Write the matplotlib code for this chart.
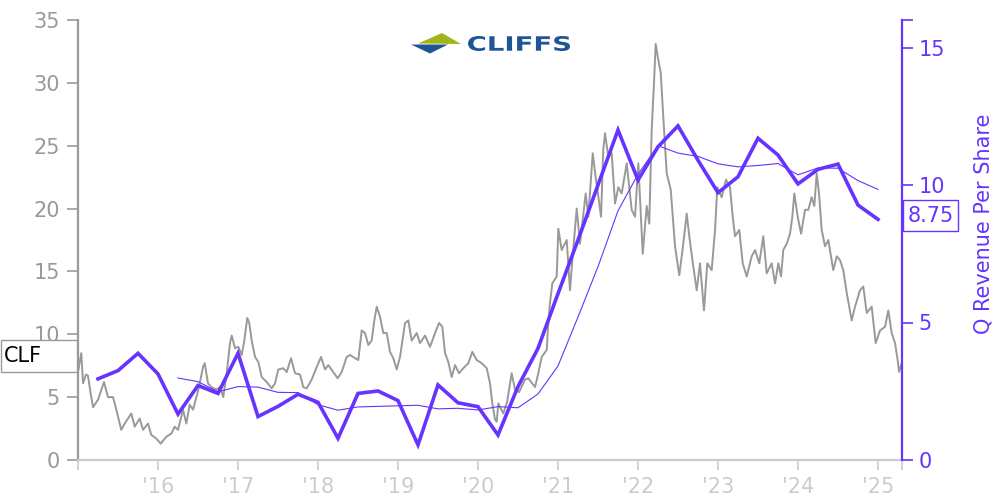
import numpy as np
import matplotlib
matplotlib.use("Agg")
import matplotlib.pyplot as plt
from matplotlib.patches import Polygon, Rectangle, PathPatch
from matplotlib.textpath import TextPath
from matplotlib.font_manager import FontProperties
from matplotlib.transforms import Affine2D

# daily close of CLF (decimal year, price in $)
price_years = [
    2015.000, 2015.041, 2015.063, 2015.100, 2015.125, 2015.158, 2015.188, 2015.250,
    2015.325, 2015.375, 2015.438, 2015.479, 2015.541, 2015.584, 2015.666, 2015.709,
    2015.771, 2015.813, 2015.875, 2015.916, 2015.979, 2016.034, 2016.104, 2016.166,
    2016.209, 2016.250, 2016.313, 2016.354, 2016.396, 2016.438, 2016.479, 2016.509,
    2016.563, 2016.584, 2016.625, 2016.666, 2016.729, 2016.775, 2016.816, 2016.859,
    2016.900, 2016.921, 2016.963, 2017.004, 2017.046, 2017.079, 2017.116, 2017.141,
    2017.171, 2017.213, 2017.254, 2017.296, 2017.359, 2017.421, 2017.463, 2017.504,
    2017.566, 2017.609, 2017.663, 2017.713, 2017.775, 2017.816, 2017.859, 2017.921,
    2017.984, 2018.038, 2018.088, 2018.129, 2018.191, 2018.246, 2018.296, 2018.359,
    2018.400, 2018.463, 2018.504, 2018.546, 2018.588, 2018.629, 2018.671, 2018.704,
    2018.734, 2018.775, 2018.816, 2018.859, 2018.900, 2018.941, 2018.984, 2019.025,
    2019.088, 2019.129, 2019.171, 2019.234, 2019.275, 2019.338, 2019.400, 2019.463,
    2019.513, 2019.554, 2019.588, 2019.629, 2019.671, 2019.713, 2019.763, 2019.816,
    2019.879, 2019.929, 2019.984, 2020.046, 2020.109, 2020.150, 2020.179, 2020.213,
    2020.234, 2020.254, 2020.316, 2020.363, 2020.421, 2020.463, 2020.513, 2020.588,
    2020.629, 2020.713, 2020.754, 2020.796, 2020.859, 2020.879, 2020.900, 2020.929,
    2020.984, 2021.004, 2021.046, 2021.109, 2021.150, 2021.179, 2021.234, 2021.275,
    2021.346, 2021.379, 2021.434, 2021.471, 2021.538, 2021.566, 2021.588, 2021.629,
    2021.671, 2021.713, 2021.754, 2021.796, 2021.859, 2021.921, 2021.963, 2022.004,
    2022.059, 2022.109, 2022.141, 2022.171, 2022.200, 2022.221, 2022.254, 2022.284,
    2022.316, 2022.359, 2022.409, 2022.463, 2022.516, 2022.566, 2022.609, 2022.641,
    2022.691, 2022.734, 2022.775, 2022.825, 2022.866, 2022.921, 2022.963, 2022.991,
    2023.046, 2023.100, 2023.150, 2023.184, 2023.213, 2023.266, 2023.309, 2023.359,
    2023.421, 2023.463, 2023.516, 2023.566, 2023.609, 2023.671, 2023.713, 2023.754,
    2023.788, 2023.816, 2023.859, 2023.900, 2023.929, 2023.954, 2023.996, 2024.038,
    2024.088, 2024.129, 2024.171, 2024.204, 2024.234, 2024.263, 2024.296, 2024.338,
    2024.379, 2024.441, 2024.484, 2024.525, 2024.566, 2024.609, 2024.671, 2024.713,
    2024.775, 2024.816, 2024.859, 2024.921, 2024.971, 2025.025, 2025.088, 2025.129,
    2025.171, 2025.213, 2025.246, 2025.263, 2025.296,
]
price_values = [
    7.0, 8.5, 6.1, 6.8, 6.7, 5.3, 4.2, 4.8,
    6.2, 5.0, 5.0, 4.0, 2.4, 2.9, 3.7, 2.65,
    3.3, 2.4, 2.9, 2.0, 1.7, 1.3, 1.85, 2.1,
    2.65, 2.4, 4.0, 2.9, 4.4, 4.0, 5.0, 5.7,
    7.4, 7.7, 6.1, 5.8, 5.6, 5.8, 5.0, 6.9,
    9.3, 9.9, 8.9, 9.0, 8.35, 9.5, 11.3, 10.9,
    9.5, 8.2, 7.8, 6.6, 6.2, 5.7, 6.1, 7.2,
    7.3, 7.0, 8.1, 6.9, 6.8, 5.8, 5.7, 6.4,
    7.4, 8.2, 7.2, 7.55, 7.0, 6.5, 7.0, 8.2,
    8.35, 8.1, 7.95, 10.3, 10.1, 9.15, 9.5, 11.1,
    12.2, 11.4, 10.1, 10.1, 8.6, 8.1, 7.2, 8.2,
    10.9, 11.1, 9.5, 10.1, 9.3, 9.9, 9.0, 10.1,
    10.9, 10.6, 8.5, 7.8, 6.6, 7.55, 6.9, 7.3,
    7.7, 8.6, 7.95, 7.7, 7.3, 6.1, 4.5, 3.2,
    3.05, 4.5, 3.7, 4.6, 6.9, 5.6, 5.4, 6.4,
    6.5, 5.8, 6.9, 8.2, 8.75, 10.9, 12.5, 14.05,
    14.6, 18.4, 16.7, 17.5, 13.5, 15.9, 20.0, 17.2,
    21.2, 19.35, 24.4, 22.5, 19.35, 24.7, 26.0, 24.1,
    24.4, 20.4, 21.7, 21.2, 23.6, 19.9, 19.35, 23.6,
    16.4, 20.2, 18.8, 26.25, 30.0, 33.1, 31.8, 30.8,
    27.3, 22.8, 21.5, 17.0, 14.7, 17.2, 19.6, 17.8,
    15.4, 13.5, 15.65, 11.9, 15.65, 15.1, 18.3, 21.7,
    20.9, 22.3, 21.7, 19.35, 17.8, 18.3, 15.65, 14.6,
    16.2, 16.7, 15.65, 17.8, 14.85, 15.65, 14.05, 15.65,
    14.6, 16.7, 17.2, 18.0, 19.35, 21.2, 19.35, 18.0,
    19.9, 19.9, 20.9, 20.2, 22.8, 21.2, 18.3, 17.0,
    17.5, 15.1, 16.2, 15.9, 15.1, 13.3, 11.1, 12.2,
    13.5, 13.8, 11.7, 12.2, 9.3, 10.3, 10.6, 11.9,
    10.1, 9.3, 7.95, 7.0, 7.7,
]

# quarterly revenue per share, quarter ends 2015Q1 .. 2024Q4
q_years = np.arange(2015.25, 2025.01, 0.25)
rev_per_share = [
    2.95, 3.25, 3.88, 3.13, 1.67, 2.71, 2.42, 3.88,
    1.58, 1.95, 2.39, 2.10, 0.79, 2.42, 2.51, 2.16,
    0.55, 2.73, 2.08, 1.94, 0.91, 2.67, 4.06, 6.05,
    8.00, 10.00, 12.00, 10.18, 11.39, 12.15, 10.90, 9.72,
    10.30, 11.70, 11.09, 10.04, 10.57, 10.76, 9.27, 8.75,
]
# thin line: 4 quarter average, starts 2016Q1
rev_avg = [
    2.98, 2.85, 2.48, 2.67, 2.65, 2.46, 2.45,
    2.01, 1.81, 1.93, 1.95, 1.97, 1.99, 1.86, 1.88,
    1.82, 1.94, 1.90, 2.40, 3.42, 5.20, 7.03, 9.06,
    10.39, 11.43, 11.16, 11.04, 10.77, 10.66, 10.71, 10.78,
    10.37, 10.62, 10.61, 10.16, 9.84,
]
year_ticks = list(range(2016, 2026))
year_labels = ["'%02d" % (y % 100) for y in year_ticks]

purple = '#6633ff'
gray = '#999999'
light = '#cccccc'
fs = 15

fig = plt.figure(figsize=(10, 5), dpi=100)
ax = fig.add_axes([0.078, 0.08, 0.824, 0.88])
ax.plot(price_years, price_values, color=gray, lw=1.4)
ax.set_xlim(2015.0, 2025.3)
ax.set_ylim(0, 35)

ax2 = ax.twinx()
ax2.plot(q_years, rev_per_share, color=purple, lw=2.6, solid_joinstyle='miter')
ax2.plot(q_years[4:], rev_avg, color=purple, lw=0.8)
ax2.set_ylim(0, 16)

# left axis
ax.set_yticks(range(0, 36, 5))
ax.tick_params(axis='y', colors=gray, labelsize=fs, length=8, width=1.2, pad=5)
ax.spines['left'].set_color(gray)
ax.spines['left'].set_linewidth(1.6)
# bottom axis, with end ticks left unlabeled
ax.set_xticks([2015.0] + year_ticks + [2025.3])
ax.set_xticklabels([''] + year_labels + [''])
ax.tick_params(axis='x', colors=light, labelsize=fs, length=7, width=1.2, pad=5)
ax.spines['bottom'].set_color(light)
ax.spines['bottom'].set_linewidth(1.6)
ax.spines['top'].set_visible(False)
ax.spines['right'].set_visible(False)

# right axis
ax2.set_yticks([0, 5, 10, 15, 16])
ax2.set_yticklabels(['0', '5', '10', '15', ''])
ax2.tick_params(axis='y', colors=purple, labelsize=fs, length=8, width=1.2, pad=4)
ax2.spines['right'].set_color(purple)
ax2.spines['right'].set_linewidth(1.6)
for side in ['left', 'top', 'bottom']:
    ax2.spines[side].set_visible(False)
fig.text(0.983, 0.552, 'Q Revenue Per Share', rotation=90, color=purple,
         fontsize=fs, ha='center', va='center')

# last value box on the right axis
fig.add_artist(Rectangle((0.903, 1 - 231 / 500), 0.055, 31 / 500,
                         transform=fig.transFigure, fc='white', ec=purple, lw=1))
fig.text(0.9305, 1 - 215.5 / 500, '8.75', color=purple, fontsize=fs,
         ha='center', va='center')

# ticker box on the left
fig.add_artist(Rectangle((0.001, 1 - 372 / 500), 0.076, 32 / 500,
                         transform=fig.transFigure, fc='white', ec=gray, lw=1,
                         zorder=5))
fig.text(0.004, 1 - 356 / 500, 'CLF', color='black', fontsize=fs,
         ha='left', va='center', zorder=6)

# logo: mark + wide "CLIFFS" lettering stretched into its box (pixels)
def fpt(x, y):
    return (x / 1000, 1 - y / 500)

fig.add_artist(Polygon([fpt(418, 43.5), fpt(442, 33), fpt(461, 44)], closed=True,
                       transform=fig.transFigure, fc='#a3b31a', ec='none'))
fig.add_artist(Polygon([fpt(411, 44.5), fpt(448, 44.5), fpt(430, 53.5)], closed=True,
                       transform=fig.transFigure, fc='#1f5496', ec='none'))
tp = TextPath((0, 0), 'CLIFFS', size=1,
              prop=FontProperties(family='DejaVu Sans', weight='bold'))
ext = tp.get_extents()
sx = (570 - 468) / ext.width
sy = (51 - 36) / ext.height
tr = Affine2D().translate(-ext.x0, -ext.y0).scale(sx, sy).translate(468, 500 - 51)
fig.add_artist(PathPatch(tp, transform=tr, fc='#1f5496', ec='none'))

fig.savefig('out.png', dpi=100)
